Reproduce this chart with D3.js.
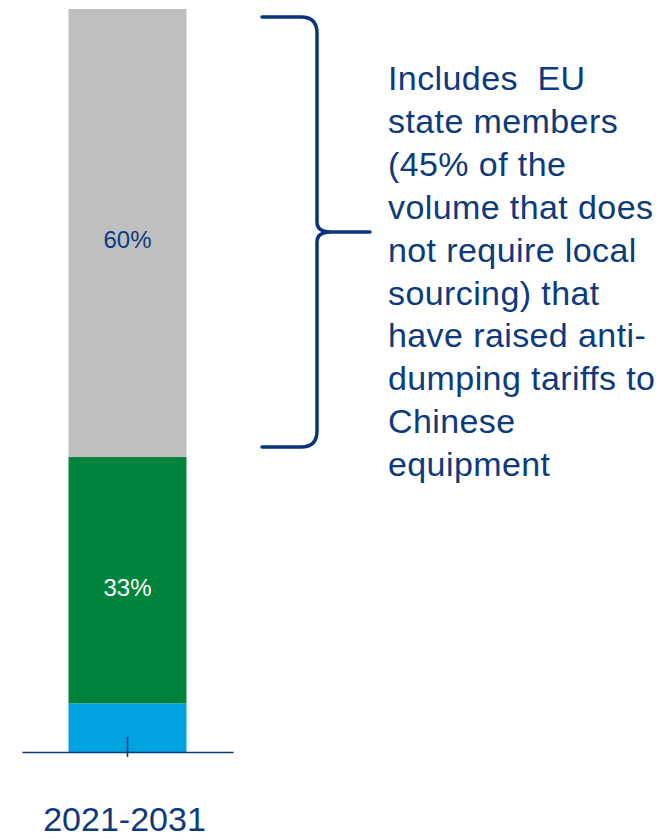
<!DOCTYPE html>
<html>
<head>
<meta charset="utf-8">
<script src="https://cdn.jsdelivr.net/npm/d3@7"></script>
<style>
  html, body { margin: 0; padding: 0; background: #ffffff; }
  svg { display: block; }
  text { font-family: "Liberation Sans", Arial, sans-serif; }
</style>
</head>
<body>
<svg id="chart" width="661" height="839"></svg>
<script>
// Period shown on the x axis
const categories = ["2021-2031"];

// Stacked shares (%) from bottom to top
const segmentNames = ["Other", "Local sourcing", "No local sourcing"];
const segmentValues = [6.5, 33, 60];
const segmentLabels = ["", "33%", "60%"];
const segmentColors = ["#00a3e0", "#00843d", "#bfbfbf"];
const labelColors = ["#ffffff", "#ffffff", "#0d3a7c"];

// Note attached to the top segment by the brace
const noteLines = [
  "Includes\u00a0\u00a0EU",
  "state members",
  "(45% of the",
  "volume that does",
  "not require local",
  "sourcing) that",
  "have raised anti-",
  "dumping tariffs to",
  "Chinese",
  "equipment"
];

const navy = "#0d3a7c";
const svg = d3.select("#chart");

const axisY = 752;
const x = d3.scaleBand()
  .domain(categories)
  .range([22, 233])
  .paddingInner(0.2827)
  .paddingOuter(0.2827);

const y = d3.scaleLinear()
  .domain([0, d3.sum(segmentValues)])
  .range([axisY, 9]);

// Build stack rows
let acc = 0;
const stacked = segmentValues.map((v, i) => {
  const row = { name: segmentNames[i], y0: acc, y1: acc + v, label: segmentLabels[i],
                color: segmentColors[i], labelColor: labelColors[i] };
  acc += v;
  return row;
});

const cat = categories[0];
const g = svg.append("g");

g.selectAll("rect.seg")
  .data(stacked)
  .join("rect")
  .attr("class", "seg")
  .attr("x", x(cat))
  .attr("width", x.bandwidth())
  .attr("y", d => y(d.y1))
  .attr("height", d => y(d.y0) - y(d.y1))
  .attr("fill", d => d.color);

g.selectAll("text.seg-label")
  .data(stacked.filter(d => d.label))
  .join("text")
  .attr("class", "seg-label")
  .attr("x", x(cat) + x.bandwidth() / 2)
  .attr("y", d => (y(d.y0) + y(d.y1)) / 2 + 7)
  .attr("dy", "0.35em")
  .attr("text-anchor", "middle")
  .attr("font-size", 24)
  .attr("fill", d => d.labelColor)
  .text(d => d.label);

// X axis
const axis = d3.axisBottom(x).tickSizeInner(5).tickSizeOuter(0).tickPadding(0);
const ax = svg.append("g")
  .attr("transform", `translate(0,${axisY})`)
  .call(axis);
ax.select(".domain").attr("stroke", navy).attr("stroke-width", 1.6);
ax.selectAll(".tick line")
  .attr("y1", -15)
  .attr("y2", 5)
  .attr("stroke", navy)
  .attr("stroke-width", 1.6);
ax.selectAll(".tick text")
  .attr("y", 79)
  .attr("dy", 0)
  .attr("dx", -3)
  .attr("font-size", 34)
  .attr("font-family", "Liberation Sans, Arial, sans-serif")
  .attr("fill", navy);

// Brace spanning the top segment
const topSeg = stacked[2];
const bTop = y(topSeg.y1) + 8;
const bBot = y(topSeg.y0) - 10;
const bMid = (bTop + bBot) / 2;
const bx0 = 262, bx1 = 317, tipX = 370, r = 16;
const p = d3.path();
p.moveTo(bx0, bTop);
p.lineTo(bx1 - r, bTop);
p.quadraticCurveTo(bx1, bTop, bx1, bTop + r);
p.lineTo(bx1, bMid - 10);
p.quadraticCurveTo(bx1, bMid, bx1 + 14, bMid);
p.lineTo(tipX, bMid);
p.moveTo(bx1 + 14, bMid);
p.quadraticCurveTo(bx1, bMid, bx1, bMid + 10);
p.lineTo(bx1, bBot - r);
p.quadraticCurveTo(bx1, bBot, bx1 - r, bBot);
p.lineTo(bx0, bBot);
svg.append("path")
  .attr("d", p.toString())
  .attr("fill", "none")
  .attr("stroke", "#07367d")
  .attr("stroke-width", 3.5)
  .attr("stroke-linecap", "round")
  .attr("stroke-linejoin", "round");

// Note text
svg.append("text")
  .attr("x", 388)
  .attr("y", 90)
  .attr("font-size", 34)
  .attr("letter-spacing", 0.4)
  .attr("fill", navy)
  .selectAll("tspan")
  .data(noteLines)
  .join("tspan")
  .attr("x", 388)
  .attr("y", (d, i) => 90 + i * 42.9)
  .text(d => d);
</script>
</body>
</html>
